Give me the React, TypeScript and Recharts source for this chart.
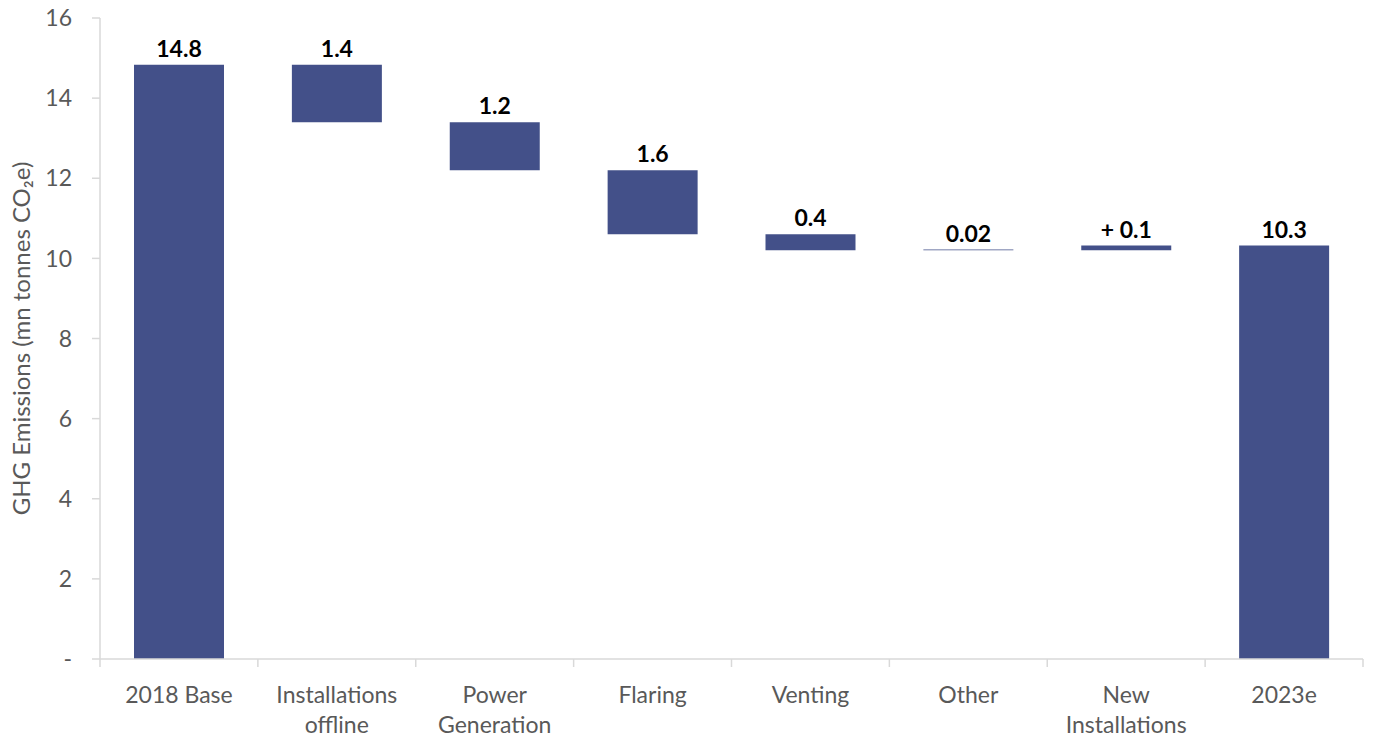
import React from 'react';
import { BarChart, Bar, XAxis, YAxis, LabelList, Cell } from 'recharts';

const categories = ['2018 Base', 'Installations offline', 'Power Generation', 'Flaring', 'Venting', 'Other', 'New Installations', '2023e'];
const tickLines = [['2018 Base'], ['Installations', 'offline'], ['Power', 'Generation'], ['Flaring'], ['Venting'], ['Other'], ['New', 'Installations'], ['2023e']];
const barLow = [0, 13.4, 12.2, 10.6, 10.2, 10.2, 10.2, 0];
const barHigh = [14.83, 14.83, 13.4, 12.2, 10.6, 10.22, 10.32, 10.32];
const valueLabels = ['14.8', '1.4', '1.2', '1.6', '0.4', '0.02', '+ 0.1', '10.3'];
const yTicks = [0, 2, 4, 6, 8, 10, 12, 14, 16];

const data = categories.map((c, i) => ({
  name: c,
  range: [barLow[i], barHigh[i]],
  label: valueLabels[i],
  lines: tickLines[i],
}));

const FONT = 'Lato, "Open Sans", sans-serif';
const W = 1373;
const H = 738;
const M = { top: 18, right: 10, left: 0, bottom: 9 };
const YW = 100;
const BAND = (W - M.left - M.right - YW) / categories.length;

const XTick = (props: any) => {
  const { x, y, payload, index } = props;
  const lines: string[] = tickLines[index] || [payload.value];
  return (
    <g>
      <line x1={x - BAND / 2} x2={x - BAND / 2} y1={y} y2={y + 8} stroke="#d9d9d9" strokeWidth={1.5} />
      {index === categories.length - 1 && (
        <line x1={x + BAND / 2} x2={x + BAND / 2} y1={y} y2={y + 8} stroke="#d9d9d9" strokeWidth={1.5} />
      )}
      {lines.map((l, i) => (
        <text key={i} x={x} y={y + 44 + i * 30} textAnchor="middle" fill="#595959" fontSize={23} fontFamily={FONT}>
          {l}
        </text>
      ))}
    </g>
  );
};

const YLabel = (props: any) => {
  const vb = props.viewBox || { x: 0, y: M.top, height: 641 };
  const cx = 20;
  const cy = vb.y + vb.height / 2;
  return (
    <text x={cx} y={cy} transform={`rotate(-90 ${cx} ${cy})`} textAnchor="middle" dominantBaseline="central" fill="#595959" fontSize={24} fontFamily={FONT}>
      GHG Emissions (mn tonnes CO₂e)
    </text>
  );
};

export default function App() {
  return (
    <div style={{ position: 'absolute', left: 0, top: 0, background: '#fff' }}>
      <BarChart width={W} height={H} data={data} margin={M} barSize={90}>
        <XAxis
          dataKey="name"
          interval={0}
          tickLine={false}
          tickSize={0}
          tickMargin={0}
          height={70}
          axisLine={{ stroke: '#d9d9d9', strokeWidth: 1.5 }}
          tick={<XTick />}
        />
        <YAxis
          width={YW}
          domain={[0, 16]}
          ticks={yTicks}
          interval={0}
          tickSize={8}
          tickMargin={20}
          axisLine={{ stroke: '#d9d9d9', strokeWidth: 1.5 }}
          tickLine={{ stroke: '#d9d9d9', strokeWidth: 1.5 }}
          tick={{ fill: '#595959', fontSize: 23, fontFamily: FONT }}
          tickFormatter={(v: number) => (v === 0 ? '-' : String(v))}
          label={<YLabel />}
        />
        <Bar dataKey="range" fill="#435089" isAnimationActive={false}>
          {data.map((d, i) => (
            <Cell key={i} fill="#435089" />
          ))}
          <LabelList dataKey="label" position="top" offset={8} fill="#000" fontSize={23} fontWeight={700} fontFamily={FONT} />
        </Bar>
      </BarChart>
    </div>
  );
}
